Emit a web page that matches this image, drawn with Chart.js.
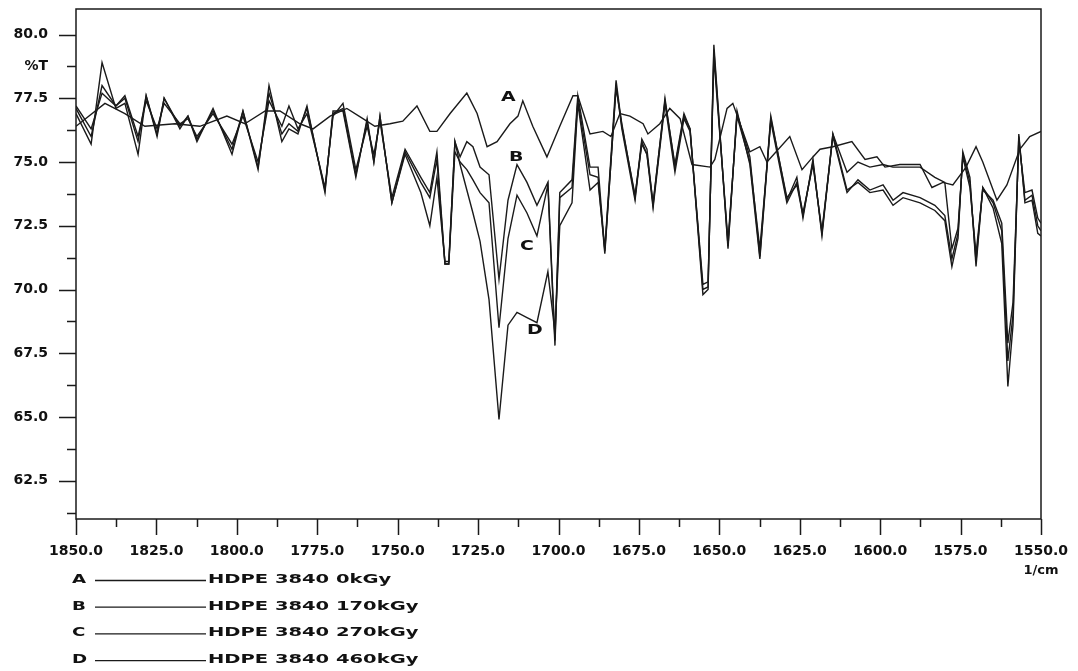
<!DOCTYPE html>
<html>
<head>
<meta charset="utf-8">
<script src="https://cdn.jsdelivr.net/npm/chart.js@4.4.1/dist/chart.umd.min.js"></script>
<style>
html, body { margin: 0; padding: 0; background: #fff; }
#wrap { width: 1078px; height: 671px; position: relative; }
</style>
</head>
<body>
<div id="wrap"><canvas id="irChart"></canvas></div>
<script>
// wavenumbers (1/cm) and %T
const waveA = [1850.0, 1841.0, 1834.8, 1828.6, 1819.2, 1811.5, 1803.1, 1797.5, 1791.2, 1786.6,
    1780.4, 1776.3, 1771.0, 1765.8, 1760.8, 1757.1, 1752.4, 1748.4, 1744.0, 1740.0,
    1737.8, 1733.7, 1728.5, 1725.3, 1722.2, 1719.1, 1715.1, 1712.6, 1711.1, 1708.0,
    1703.6, 1699.6, 1695.5, 1694.0, 1690.2, 1686.2, 1683.7, 1680.9, 1677.8, 1673.7,
    1672.2, 1668.5, 1665.4, 1662.2, 1658.5, 1652.9, 1651.4, 1647.6, 1645.8, 1642.7,
    1640.5, 1637.4, 1635.2, 1628.1, 1624.3, 1620.9, 1618.7, 1614.7, 1608.8, 1604.7,
    1601.0, 1598.5, 1593.9, 1587.6, 1583.9, 1580.5, 1577.4, 1573.3, 1570.2, 1568.1,
    1563.7, 1560.6, 1556.6, 1553.5, 1550.0];
const seriesA = [76.4, 77.3, 76.9, 76.4, 76.5, 76.4, 76.8, 76.5, 77.0, 77.0,
    76.5, 76.3, 76.8, 77.1, 76.7, 76.4, 76.5, 76.6, 77.2, 76.2,
    76.2, 76.9, 77.7, 76.9, 75.6, 75.8, 76.5, 76.8, 77.4, 76.4,
    75.2, 76.4, 77.6, 77.6, 76.1, 76.2, 76.0, 76.9, 76.8, 76.5,
    76.1, 76.5, 77.1, 76.7, 74.9, 74.8, 75.1, 77.1, 77.3, 76.2,
    75.4, 75.6, 75.0, 76.0, 74.7, 75.2, 75.5, 75.6, 75.8, 75.1,
    75.2, 74.8, 74.9, 74.9, 74.0, 74.2, 74.1, 74.8, 75.6, 75.0,
    73.5, 74.1, 75.5, 76.0, 76.2];

const waveBCD = [1850.0, 1845.3, 1841.9, 1837.6, 1834.8, 1830.7, 1828.2, 1824.8, 1822.6, 1817.7,
    1815.2, 1812.4, 1807.4, 1801.5, 1798.1, 1793.4, 1790.0, 1786.0, 1783.8, 1781.0,
    1778.2, 1772.6, 1770.1, 1767.0, 1763.0, 1759.5, 1757.4, 1755.5, 1751.8, 1747.7,
    1742.8, 1740.0, 1737.8, 1735.3, 1734.1, 1732.2, 1730.6, 1728.5, 1726.6, 1724.4,
    1721.6, 1718.5, 1715.7, 1712.9, 1709.8, 1706.7, 1703.3, 1701.1, 1699.6, 1695.8,
    1694.0, 1690.2, 1687.7, 1685.6, 1682.1, 1680.3, 1676.2, 1674.1, 1672.5, 1670.6,
    1666.9, 1663.8, 1661.0, 1659.1, 1655.1, 1653.5, 1651.7, 1647.3, 1644.5, 1640.5,
    1637.4, 1634.0, 1629.0, 1625.9, 1624.0, 1620.9, 1618.1, 1614.7, 1610.3, 1606.9,
    1603.2, 1599.1, 1596.0, 1592.9, 1587.6, 1583.0, 1579.9, 1577.7, 1575.8, 1574.3,
    1572.1, 1570.2, 1568.1, 1564.9, 1562.2, 1560.3, 1558.7, 1556.9, 1555.0, 1552.8,
    1551.0, 1550.0];
const seriesB = [77.2, 76.3, 77.7, 77.2, 77.6, 76.0, 77.4, 76.3, 77.3, 76.5,
    76.7, 76.0, 76.9, 75.7, 76.8, 75.0, 77.4, 76.4, 77.2, 76.3,
    76.9, 74.0, 76.8, 77.3, 74.7, 76.4, 75.3, 76.6, 73.6, 75.5,
    74.4, 73.8, 75.4, 71.0, 71.0, 75.8, 75.2, 75.8, 75.6, 74.8,
    74.5, 70.4, 73.5, 74.9, 74.2, 73.3, 74.2, 68.0, 73.8, 74.3,
    77.6, 74.8, 74.8, 71.5, 77.9, 76.5, 73.6, 75.9, 75.5, 73.3,
    77.5, 74.8, 76.8, 76.3, 70.0, 70.1, 79.4, 71.7, 76.9, 75.2,
    71.3, 76.8, 73.5, 74.4, 72.8, 75.1, 72.1, 76.1, 74.6, 75.0,
    74.8, 74.9, 74.8, 74.8, 74.8, 74.4, 74.2, 71.6, 72.4, 75.2,
    74.0, 71.4, 73.9, 73.5, 72.6, 67.9, 69.5, 75.8, 73.8, 73.9,
    72.8, 72.6];
const seriesC = [77.1, 76.0, 78.0, 77.2, 77.5, 75.8, 77.6, 76.1, 77.5, 76.4,
    76.8, 75.9, 77.0, 75.5, 77.0, 74.8, 77.7, 76.1, 76.5, 76.2,
    77.1, 73.9, 76.9, 77.1, 74.5, 76.6, 75.0, 76.8, 73.4, 75.4,
    74.2, 73.6, 75.1, 71.0, 71.0, 75.4, 75.0, 74.7, 74.3, 73.8,
    73.4, 68.5, 72.0, 73.7, 73.0, 72.1, 74.1, 67.8, 73.6, 74.0,
    77.4, 74.5, 74.4, 71.4, 78.0, 76.3, 73.5, 75.8, 75.3, 73.2,
    77.3, 74.6, 76.7, 76.2, 70.2, 70.3, 79.1, 71.9, 76.8, 75.0,
    71.6, 76.6, 73.4, 74.2, 73.0, 74.9, 72.3, 76.0, 73.8, 74.3,
    73.9, 74.1, 73.5, 73.8, 73.6, 73.3, 72.9, 71.2, 72.2, 75.3,
    74.2, 71.1, 74.0, 73.4, 72.3, 67.2, 69.0, 76.0, 73.5, 73.7,
    72.5, 72.3];
const seriesD = [76.9, 75.7, 78.9, 77.1, 77.3, 75.3, 77.6, 76.0, 77.5, 76.3,
    76.8, 75.8, 77.1, 75.3, 77.0, 74.7, 78.0, 75.8, 76.3, 76.1,
    77.2, 73.8, 77.0, 77.0, 74.4, 76.7, 75.0, 76.8, 73.4, 75.3,
    73.8, 72.5, 74.4, 71.1, 71.1, 75.8, 74.9, 73.9, 73.0, 71.9,
    69.6, 64.9, 68.6, 69.1, 68.9, 68.7, 70.7, 68.3, 72.5, 73.4,
    77.3, 73.9, 74.2, 71.6, 78.2, 76.4, 73.7, 75.7, 75.3, 73.4,
    77.4, 74.9, 76.9, 76.3, 69.8, 70.0, 79.6, 71.6, 77.0, 74.9,
    71.2, 76.7, 73.6, 74.1, 72.9, 75.0, 72.2, 76.1, 73.9, 74.2,
    73.8, 73.9, 73.3, 73.6, 73.4, 73.1, 72.7, 70.9, 72.0, 75.4,
    74.4, 70.9, 74.0, 73.2, 71.8, 66.2, 68.6, 76.1, 73.4, 73.5,
    72.2, 72.1];

const yTickValues = [61.25, 62.5, 63.75, 65, 66.25, 67.5, 68.75, 70, 71.25, 72.5,
    73.75, 75, 76.25, 77.5, 78.75, 80];
const yTickLabels = ['', '62.5', '', '65.0', '', '67.5', '', '70.0', '', '72.5',
    '', '75.0', '', '77.5', '%T', '80.0'];
const xTickValues = [1850, 1837.5, 1825, 1812.5, 1800, 1787.5, 1775, 1762.5, 1750, 1737.5,
    1725, 1712.5, 1700, 1687.5, 1675, 1662.5, 1650, 1637.5, 1625, 1612.5,
    1600, 1587.5, 1575, 1562.5, 1550];
const xTickLabels = ['1850.0', '', '1825.0', '', '1800.0', '', '1775.0', '', '1750.0', '',
    '1725.0', '', '1700.0', '', '1675.0', '', '1650.0', '', '1625.0', '',
    '1600.0', '', '1575.0', '', '1550.0'];
const xUnit = '1/cm';

const curveLetters = ['A', 'B', 'C', 'D'];
const curveNames = ['HDPE 3840 0kGy', 'HDPE 3840 170kGy', 'HDPE 3840 270kGy', 'HDPE 3840 460kGy'];

const FONT = '"DejaVu Sans", "Liberation Sans", sans-serif';
const INK = '#1a1a1a';

function toPoints(waves, vals) {
    return waves.map((w, i) => ({ x: w, y: vals[i] }));
}

function stretchText(ctx, text, x, y, sx) {
    ctx.save();
    ctx.translate(x, y);
    ctx.scale(sx, 1);
    ctx.fillText(text, 0, 0);
    ctx.restore();
}

const frameAndTicks = {
    id: 'frameAndTicks',
    afterDraw(chart) {
        const ctx = chart.ctx;
        const area = chart.chartArea;
        const xs = chart.scales.x;
        const ys = chart.scales.y;

        ctx.save();
        ctx.strokeStyle = INK;
        ctx.lineWidth = 1.5;
        ctx.strokeRect(area.left, area.top, area.right - area.left, area.bottom - area.top);

        ctx.beginPath();
        ys.ticks.forEach((t, i) => {
            const y = Math.round(ys.getPixelForValue(t.value)) + 0.5;
            const major = yTickLabels[i] !== '' && yTickLabels[i] !== '%T';
            ctx.moveTo(area.left - (major ? 17 : 9), y);
            ctx.lineTo(area.left, y);
        });
        xs.ticks.forEach((t, i) => {
            const x = Math.round(xs.getPixelForValue(t.value)) + 0.5;
            ctx.moveTo(x, area.bottom);
            ctx.lineTo(x, area.bottom + (xTickLabels[i] ? 16 : 8));
        });
        ctx.stroke();

        // unit under the last tick label
        ctx.fillStyle = '#111';
        ctx.font = 'bold 13px ' + FONT;
        ctx.textAlign = 'center';
        ctx.textBaseline = 'alphabetic';
        ctx.fillText(xUnit, xs.getPixelForValue(1550), area.bottom + 55);

        // curve tags next to the 1720 band
        const tagPos = [[1715.7, 77.55], [1713.2, 75.2], [1709.8, 71.7], [1707.6, 68.4]];
        ctx.font = 'bold 14px ' + FONT;
        ctx.textAlign = 'left';
        ctx.textBaseline = 'middle';
        curveLetters.forEach((c, i) => {
            stretchText(ctx, c, xs.getPixelForValue(tagPos[i][0]) - 7, ys.getPixelForValue(tagPos[i][1]), 1.35);
        });

        // legend block under the axis
        ctx.font = 'bold 13px ' + FONT;
        ctx.textBaseline = 'alphabetic';
        ctx.lineWidth = 1.3;
        curveLetters.forEach((c, i) => {
            const base = area.bottom + 64 + i * 26.7;
            stretchText(ctx, c, 72, base, 1.4);
            ctx.beginPath();
            ctx.moveTo(95, base - 2.5);
            ctx.lineTo(206, base - 2.5);
            ctx.stroke();
            stretchText(ctx, curveNames[i], 208, base, 1.5);
        });
        ctx.restore();
    }
};

const ctx = document.getElementById('irChart').getContext('2d');
const lineStyle = { borderColor: INK, borderWidth: 1.4, pointRadius: 0, tension: 0, fill: false };

new Chart(ctx, {
    type: 'line',
    data: {
        datasets: [
            Object.assign({ label: curveNames[0], data: toPoints(waveA, seriesA) }, lineStyle),
            Object.assign({ label: curveNames[1], data: toPoints(waveBCD, seriesB) }, lineStyle),
            Object.assign({ label: curveNames[2], data: toPoints(waveBCD, seriesC) }, lineStyle),
            Object.assign({ label: curveNames[3], data: toPoints(waveBCD, seriesD) }, lineStyle)
        ]
    },
    options: {
        responsive: true,
        maintainAspectRatio: false,
        animation: false,
        layout: { padding: { top: 9, right: 37, bottom: 112, left: 0 } },
        plugins: { legend: { display: false }, tooltip: { enabled: false } },
        scales: {
            x: {
                type: 'linear',
                reverse: true,
                min: 1550,
                max: 1850,
                border: { display: false },
                grid: { display: false, drawTicks: false },
                afterBuildTicks: (scale) => { scale.ticks = xTickValues.map(v => ({ value: v })); },
                afterFit: (scale) => {
                    scale.height = 40;
                    scale.paddingLeft = 0;
                    scale.paddingRight = 0;
                },
                ticks: {
                    autoSkip: false,
                    maxRotation: 0,
                    padding: 24,
                    color: '#111',
                    font: { family: FONT, size: 14, weight: 'bold' },
                    callback: (value, index) => xTickLabels[index]
                }
            },
            y: {
                min: 61,
                max: 81,
                border: { display: false },
                grid: { display: false, drawTicks: false },
                afterBuildTicks: (scale) => { scale.ticks = yTickValues.map(v => ({ value: v })); },
                afterFit: (scale) => {
                    scale.width = 76;
                    scale.paddingTop = 0;
                    scale.paddingBottom = 0;
                },
                ticks: {
                    autoSkip: false,
                    padding: 28,
                    color: '#111',
                    font: { family: FONT, size: 14, weight: 'bold' },
                    callback: (value, index) => yTickLabels[index]
                }
            }
        }
    },
    plugins: [frameAndTicks]
});
</script>
</body>
</html>
